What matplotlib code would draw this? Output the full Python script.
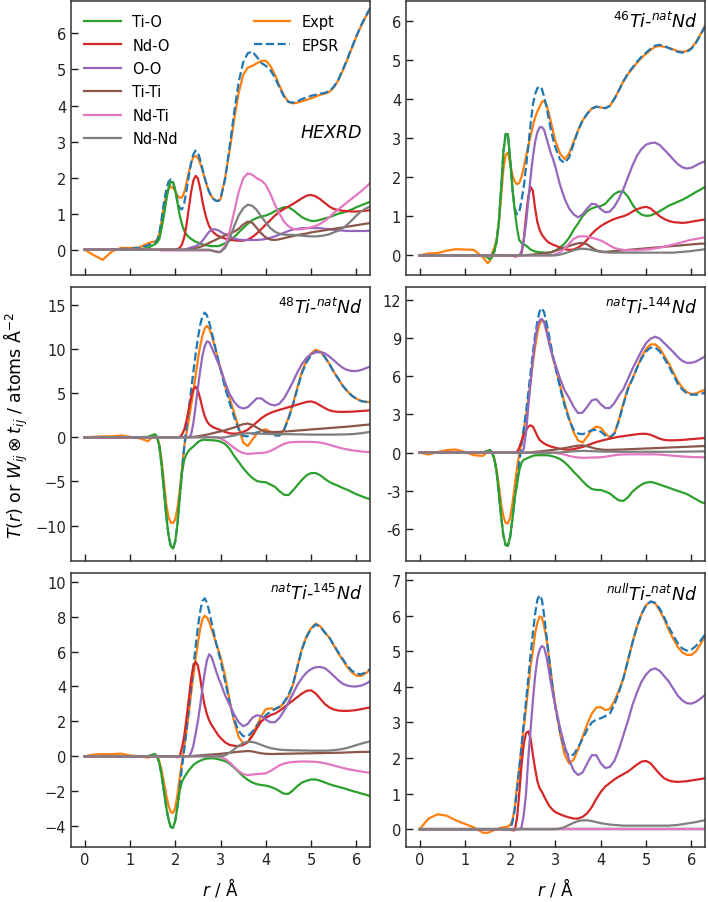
import matplotlib
matplotlib.use("Agg")
import matplotlib.pyplot as plt
from matplotlib.lines import Line2D

# r grid (Å)
r = [0.0, 0.2, 0.4, 0.6, 0.8, 1.0, 1.2, 1.4,
     1.5, 1.55, 1.6, 1.65, 1.7, 1.75, 1.8, 1.85, 1.9, 1.95, 2.0, 2.05, 2.1, 2.15, 2.2, 2.25, 2.3, 2.35,
     2.4, 2.45, 2.5, 2.55, 2.6, 2.65, 2.7, 2.75, 2.8, 2.85, 2.9, 2.95, 3.0,
     3.1, 3.2, 3.3, 3.4, 3.5, 3.6, 3.7, 3.8, 3.9, 4.0, 4.1, 4.2, 4.3, 4.4, 4.5, 4.6, 4.7, 4.8, 4.9, 5.0,
     5.1, 5.2, 5.3, 5.4, 5.5, 5.6, 5.7, 5.8, 5.9, 6.0, 6.1, 6.2, 6.3]

# ---- HEXRD ----
hexrd_tio = [0, 0, 0, 0, 0, 0, 0.01, 0.05,
             0.12, 0.15, 0.2, 0.3, 0.6, 0.95, 1.35, 1.7, 1.88, 1.88, 1.65, 1.3, 0.95, 0.7, 0.52,
             0.42, 0.35, 0.3, 0.26, 0.22, 0.2, 0.17, 0.15, 0.13, 0.12, 0.11, 0.1, 0.1, 0.1, 0.1, 0.12,
             0.18, 0.25, 0.35, 0.48, 0.6, 0.72, 0.82, 0.88, 0.92, 0.95, 1.0, 1.07, 1.13, 1.18, 1.18,
             1.1, 1.0, 0.9, 0.84, 0.8, 0.8, 0.83, 0.87, 0.9, 0.95, 1.0, 1.03, 1.07, 1.12, 1.18,
             1.23, 1.28, 1.33]
hexrd_ndo = [0, 0, 0, 0, 0, 0, 0, 0,
             0, 0, 0, 0, 0, 0, 0, 0, 0, 0, 0, 0.02, 0.05, 0.15, 0.35,
             0.7, 1.15, 1.6, 1.92, 2.05, 1.98, 1.7, 1.35, 1.05, 0.82, 0.65, 0.55, 0.47, 0.42, 0.38, 0.35,
             0.31, 0.28, 0.26, 0.25, 0.25, 0.28, 0.35, 0.45, 0.57, 0.7, 0.82, 0.95, 1.05, 1.13, 1.2,
             1.27, 1.35, 1.43, 1.5, 1.52, 1.48, 1.4, 1.3, 1.2, 1.13, 1.1, 1.08, 1.07, 1.06, 1.06,
             1.07, 1.08, 1.1]
hexrd_oo = [0, 0, 0, 0, 0, 0, 0, 0,
            0, 0, 0, 0, 0, 0, 0, 0, 0, 0, 0, 0, 0, 0, 0,
            0.02, 0.04, 0.06, 0.08, 0.1, 0.13, 0.18, 0.25, 0.33, 0.42, 0.5, 0.55, 0.57, 0.56, 0.54, 0.5,
            0.43, 0.36, 0.31, 0.28, 0.27, 0.27, 0.27, 0.27, 0.28, 0.3, 0.33, 0.37, 0.42, 0.47, 0.52,
            0.56, 0.58, 0.6, 0.6, 0.6, 0.6, 0.6, 0.58, 0.57, 0.55, 0.54, 0.53, 0.52, 0.52, 0.52,
            0.52, 0.52, 0.53]
hexrd_titi = [0, 0, 0, 0, 0, 0, 0, 0,
              0, 0, 0, 0, 0, 0, 0, 0, 0, 0, 0, 0, 0, 0, 0,
              0, 0, 0.01, 0.02, 0.04, 0.06, 0.08, 0.1, 0.13, 0.16, 0.19, 0.22, 0.25, 0.28, 0.31, 0.34,
              0.4, 0.45, 0.5, 0.58, 0.7, 0.78, 0.75, 0.6, 0.45, 0.34, 0.28, 0.27, 0.29, 0.32, 0.35,
              0.38, 0.41, 0.43, 0.45, 0.48, 0.5, 0.52, 0.54, 0.56, 0.58, 0.6, 0.62, 0.64, 0.66, 0.68,
              0.7, 0.72, 0.74]
hexrd_ndti = [0, 0, 0, 0, 0, 0, 0, 0,
              0, 0, 0, -0.01, -0.02, -0.02, -0.02, -0.02, -0.02, -0.02, -0.02, -0.02, -0.02, -0.02, -0.02,
              -0.02, -0.02, -0.02, -0.02, -0.02, -0.02, -0.02, -0.02, -0.02, -0.02, -0.02, -0.02, -0.03,
              -0.04, -0.05, -0.05,
              0.1, 0.5, 1.05, 1.6, 1.98, 2.12, 2.08, 1.98, 1.92, 1.8, 1.55, 1.25, 1.0, 0.78, 0.65,
              0.58, 0.56, 0.57, 0.6, 0.62, 0.66, 0.72, 0.8, 0.9, 1.02, 1.12, 1.22, 1.32, 1.42, 1.52,
              1.62, 1.73, 1.85]
hexrd_ndnd = [0, 0, 0, 0, 0, 0, 0, 0,
              0, 0, 0, 0, 0, 0, 0, 0, 0, 0, 0, 0, 0, 0, 0,
              0, 0, 0, 0, 0, 0, 0, 0, 0, 0, 0, -0.02, -0.04, -0.06, -0.07, -0.06,
              0.05, 0.3, 0.65, 0.95, 1.15, 1.25, 1.22, 1.1, 0.92, 0.75, 0.6, 0.5, 0.44, 0.42, 0.41,
              0.41, 0.4, 0.39, 0.38, 0.37, 0.37, 0.38, 0.4, 0.43, 0.48, 0.53, 0.6, 0.7, 0.82, 0.95,
              1.06, 1.14, 1.2]
hexrd_expt = [0, -0.15, -0.28, -0.05, 0.05, 0.05, 0.06, 0.18,
              0.22, 0.22, 0.28, 0.45, 0.8, 1.2, 1.5, 1.68, 1.75, 1.72, 1.62, 1.5, 1.44, 1.45, 1.6,
              1.85, 2.15, 2.4, 2.57, 2.6, 2.55, 2.4, 2.2, 1.98, 1.78, 1.6, 1.48, 1.4, 1.36, 1.35, 1.4,
              2.0, 2.75, 3.6, 4.35, 4.85, 5.05, 5.1, 5.17, 5.24, 5.24, 5.1, 4.85, 4.55, 4.28, 4.1,
              4.06, 4.08, 4.12, 4.16, 4.2, 4.25, 4.3, 4.33, 4.38, 4.5, 4.7, 4.98, 5.28, 5.6, 5.92,
              6.2, 6.45, 6.68]
hexrd_epsr = [0, 0, 0, 0, 0.02, 0.03, 0.05, 0.12,
              0.18, 0.2, 0.25, 0.45, 0.85, 1.3, 1.65, 1.88, 1.95, 1.88, 1.65, 1.35, 1.15, 1.12, 1.3,
              1.65, 2.05, 2.4, 2.65, 2.75, 2.7, 2.5, 2.25, 2.0, 1.78, 1.6, 1.48, 1.4, 1.36, 1.35, 1.42,
              1.95, 2.85, 3.8, 4.65, 5.2, 5.45, 5.5, 5.35, 5.18, 5.1, 4.98, 4.78, 4.5, 4.25, 4.1,
              4.08, 4.12, 4.18, 4.23, 4.27, 4.3, 4.33, 4.35, 4.4, 4.52, 4.72, 5.0, 5.3, 5.62, 5.93,
              6.22, 6.47, 6.7]

# ---- 46Ti-natNd ----
ti46_tio = [0, 0, 0, 0, 0, 0, 0, 0,
            -0.05, -0.1, -0.05, 0.1, 0.35, 0.85, 1.7, 2.65, 3.1, 3.1, 2.45, 1.68, 1.15, 0.7, 0.39,
            0.32, 0.28, 0.25, 0.2, 0.15, 0.12, 0.1, 0.09, 0.08, 0.08, 0.07, 0.07, 0.07, 0.08, 0.1, 0.12,
            0.2, 0.3, 0.45, 0.65, 0.82, 1.0, 1.13, 1.2, 1.24, 1.26, 1.32, 1.45, 1.57, 1.63, 1.63,
            1.5, 1.3, 1.13, 1.04, 1.01, 1.02, 1.07, 1.13, 1.2, 1.27, 1.32, 1.37, 1.42, 1.48, 1.55,
            1.62, 1.68, 1.75]
ti46_ndo = [0, 0, 0, 0, 0, 0, 0, 0,
            0, 0, 0, 0, 0, 0, 0, 0, 0, 0, 0, 0, -0.03, -0.02, 0.0,
            0.05, 0.4, 1.0, 1.5, 1.75, 1.65, 1.2, 0.85, 0.65, 0.53, 0.45, 0.38, 0.33, 0.3, 0.27, 0.25,
            0.2, 0.16, 0.14, 0.15, 0.2, 0.28, 0.4, 0.55, 0.66, 0.75, 0.82, 0.88, 0.93, 0.97, 1.0,
            1.05, 1.12, 1.18, 1.22, 1.24, 1.2, 1.1, 1.0, 0.93, 0.88, 0.85, 0.84, 0.83, 0.84, 0.86,
            0.88, 0.9, 0.92]
ti46_oo = [0, 0, 0, 0, 0, 0, 0, 0,
           0, 0, 0, 0, 0, 0, 0, 0, 0, 0, 0, 0, 0, 0, 0,
           0.1, 0.4, 0.82, 1.4, 2.0, 2.5, 2.9, 3.15, 3.27, 3.28, 3.2, 3.0, 2.8, 2.6, 2.45, 2.25,
           1.8, 1.45, 1.2, 1.05, 0.97, 1.05, 1.2, 1.32, 1.3, 1.18, 1.1, 1.12, 1.25, 1.45, 1.7,
           2.0, 2.3, 2.55, 2.72, 2.83, 2.87, 2.88, 2.82, 2.7, 2.58, 2.45, 2.33, 2.25, 2.22, 2.24,
           2.3, 2.36, 2.4]
ti46_titi = [0, 0, 0, 0, 0, 0, 0, 0,
             0, 0, 0, 0, 0, 0, 0, 0, 0, 0, 0, 0, 0, 0, 0,
             0, 0, 0.01, 0.01, 0.02, 0.02, 0.03, 0.03, 0.04, 0.04, 0.05, 0.06, 0.07, 0.08, 0.1, 0.12,
             0.16, 0.2, 0.24, 0.28, 0.31, 0.32, 0.28, 0.2, 0.13, 0.1, 0.09, 0.1, 0.11, 0.12, 0.13,
             0.14, 0.15, 0.16, 0.17, 0.18, 0.19, 0.2, 0.21, 0.22, 0.23, 0.24, 0.25, 0.26, 0.27, 0.28,
             0.29, 0.3, 0.3]
ti46_ndti = [0, 0, 0, 0, 0, 0, 0, 0,
             0, 0, 0, 0, 0, 0, 0, 0, 0, 0, 0, 0, 0, 0, 0,
             0, 0, 0, 0, 0, 0, 0, 0, 0, 0, 0, 0, 0, 0, 0.01, 0.03,
             0.08, 0.17, 0.3, 0.42, 0.48, 0.49, 0.48, 0.45, 0.42, 0.38, 0.32, 0.25, 0.19, 0.16, 0.14,
             0.13, 0.13, 0.13, 0.14, 0.15, 0.16, 0.18, 0.2, 0.22, 0.25, 0.28, 0.31, 0.34, 0.37, 0.4,
             0.42, 0.44, 0.46]
ti46_ndnd = [0, 0, 0, 0, 0, 0, 0, 0,
             0, 0, 0, 0, 0, 0, 0, 0, 0, 0, 0, 0, 0, 0, 0,
             0, 0, 0, 0, 0, 0, 0, 0, 0, 0, 0, 0, 0, 0, 0, 0,
             0.02, 0.05, 0.09, 0.13, 0.16, 0.17, 0.16, 0.14, 0.11, 0.09, 0.08, 0.07, 0.07, 0.07, 0.07,
             0.07, 0.07, 0.07, 0.07, 0.07, 0.07, 0.07, 0.07, 0.07, 0.07, 0.07, 0.08, 0.09, 0.1, 0.11,
             0.13, 0.14, 0.16]
ti46_expt = [0, 0.05, 0.06, 0.12, 0.16, 0.15, 0.14, -0.05,
             -0.2, -0.15, 0.05, 0.2, 0.4, 0.85, 1.5, 2.2, 2.58, 2.62, 2.35, 2.05, 1.88, 1.82, 1.85,
             2.0, 2.25, 2.52, 2.8, 3.05, 3.3, 3.52, 3.68, 3.8, 3.92, 3.95, 3.85, 3.65, 3.4, 3.15, 2.92,
             2.6, 2.46, 2.6, 2.9, 3.2, 3.45, 3.62, 3.75, 3.8, 3.78, 3.76, 3.82, 4.0, 4.22, 4.45,
             4.63, 4.78, 4.92, 5.05, 5.15, 5.25, 5.33, 5.35, 5.33, 5.3, 5.26, 5.22, 5.2, 5.22, 5.3,
             5.45, 5.65, 5.87]
ti46_epsr = [0, 0, 0, 0, 0, 0, 0, 0,
             0, 0, 0, 0.1, 0.35, 0.85, 1.7, 2.65, 3.1, 3.1, 2.45, 1.7, 1.2, 1.05, 1.1,
             1.4, 1.75, 2.26, 2.8, 3.35, 3.85, 4.12, 4.27, 4.32, 4.25, 4.05, 3.8, 3.5, 3.2, 2.95, 2.75,
             2.45, 2.36, 2.5, 2.85, 3.2, 3.45, 3.62, 3.75, 3.8, 3.78, 3.76, 3.82, 4.0, 4.22, 4.45,
             4.65, 4.8, 4.95, 5.08, 5.18, 5.28, 5.36, 5.38, 5.35, 5.3, 5.25, 5.2, 5.18, 5.2, 5.28,
             5.43, 5.63, 5.85]

# ---- 48Ti-natNd ----
ti48_tio = [0, 0, 0, 0, 0, 0, 0, 0.05,
            0.25, 0.35, 0.0, -1.0, -3.2, -6.0, -8.8, -11.0, -12.3, -12.6, -11.8, -9.8, -6.8, -4.0, -2.5,
            -1.9, -1.5, -1.25, -1.05, -0.8, -0.55, -0.4, -0.3, -0.28, -0.3, -0.32, -0.33, -0.35, -0.38,
            -0.42, -0.5,
            -0.75, -1.3, -2.1, -2.8, -3.5, -4.1, -4.6, -4.95, -5.05, -5.1, -5.35, -5.6, -6.1, -6.5, -6.55,
            -6.0, -5.4, -4.8, -4.3, -4.05, -4.05, -4.3, -4.7, -5.05, -5.3, -5.5, -5.75, -5.95, -6.2, -6.45,
            -6.65, -6.85, -7.0]
ti48_ndo = [0, 0, 0, 0, 0, 0, 0, 0,
            0, 0, 0, 0, 0, 0, 0, 0, 0, 0, 0, 0, 0.05, 0.3, 0.9,
            1.9, 3.2, 4.5, 5.4, 5.7, 5.3, 4.4, 3.3, 2.4, 1.8, 1.45, 1.25, 1.1, 1.0, 0.9, 0.8,
            0.6, 0.45, 0.4, 0.45, 0.6, 0.85, 1.25, 1.7, 2.15, 2.5, 2.75, 2.95, 3.1, 3.25, 3.4,
            3.55, 3.7, 3.85, 4.0, 4.05, 3.9, 3.6, 3.3, 3.05, 2.92, 2.88, 2.87, 2.88, 2.9, 2.93,
            2.97, 3.0, 3.05]
ti48_oo = [0, 0, 0, 0, 0, 0, 0, 0,
           0, 0, 0, 0, 0, 0, 0, 0, 0, 0, 0, 0, 0, 0, 0,
           0, 0, 0.3, 1.6, 3.5, 5.6, 7.5, 9.2, 10.3, 10.85, 10.75, 10.2, 9.6, 9.0, 8.4, 7.8,
           6.2, 4.9, 4.0, 3.45, 3.25, 3.4, 3.9, 4.4, 4.4, 4.0, 3.7, 3.6, 3.8, 4.4, 5.3,
           6.3, 7.4, 8.3, 9.0, 9.4, 9.6, 9.65, 9.5, 9.15, 8.7, 8.25, 7.85, 7.6, 7.5, 7.5,
           7.6, 7.8, 8.0]
ti48_titi = [0, 0, 0, 0, 0, 0, 0, 0,
             0, 0, 0, 0, 0, 0, 0, 0, 0, 0, 0, 0, 0, 0, 0,
             0, 0, 0.02, 0.05, 0.07, 0.1, 0.15, 0.2, 0.25, 0.3, 0.36, 0.42, 0.48, 0.55, 0.6, 0.65,
             0.8, 0.95, 1.1, 1.3, 1.48, 1.55, 1.4, 1.1, 0.8, 0.65, 0.6, 0.6, 0.62, 0.65, 0.68,
             0.72, 0.76, 0.8, 0.84, 0.88, 0.92, 0.96, 1.0, 1.04, 1.08, 1.12, 1.16, 1.2, 1.25, 1.3,
             1.35, 1.4, 1.45]
ti48_ndti = [0, 0, 0, 0, 0, 0, 0, 0,
             0, 0, 0, 0, 0, 0, 0, 0, 0, 0, 0, 0, 0, 0, 0,
             0, 0, 0, 0, 0, 0, 0, 0, 0, 0, 0, 0, 0, 0, -0.05, -0.15,
             -0.4, -0.8, -1.2, -1.55, -1.8, -1.88, -1.85, -1.8, -1.78, -1.72, -1.55, -1.3, -1.0, -0.75, -0.6,
             -0.55, -0.53, -0.52, -0.52, -0.53, -0.55, -0.6, -0.7, -0.85, -1.0, -1.15, -1.28, -1.38, -1.47,
             -1.55, -1.6, -1.65, -1.7]
ti48_ndnd = [0, 0, 0, 0, 0, 0, 0, 0,
             0, 0, 0, 0, 0, 0, 0, 0, 0, 0, 0, 0, 0, 0, 0,
             0, 0, 0, 0, 0, 0, 0, 0, 0, 0, 0, 0, 0, -0.02, -0.04, -0.05,
             0.0, 0.1, 0.2, 0.32, 0.42, 0.45, 0.45, 0.42, 0.4, 0.38, 0.37, 0.36, 0.36, 0.35, 0.35,
             0.34, 0.33, 0.32, 0.31, 0.3, 0.3, 0.3, 0.3, 0.3, 0.3, 0.31, 0.32, 0.33, 0.35, 0.4,
             0.46, 0.53, 0.6]
ti48_expt = [0, 0.05, 0.1, 0.1, 0.2, 0.05, -0.1, -0.45,
             0.05, 0.2, 0.0, -0.9, -2.6, -5.0, -7.5, -9.0, -9.65, -9.7, -9.3, -8.0, -6.0, -3.5, -1.0,
             0.5, 2.0, 3.6, 5.2, 7.0, 8.8, 10.3, 11.5, 12.3, 12.6, 12.3, 11.6, 10.7, 9.7, 8.7, 7.8,
             5.8, 4.4, 2.8, 1.1, -0.6, -1.0, -0.3, 0.4, 0.75, 0.9, 0.6, 0.3, 0.2, 0.9, 2.2,
             3.8, 5.7, 7.5, 8.7, 9.5, 9.9, 9.7, 9.1, 8.3, 7.4, 6.6, 5.8, 5.2, 4.7, 4.35,
             4.1, 4.0, 4.0]
ti48_epsr = [0, 0, 0, 0, 0, 0, 0, 0,
             0.2, 0.3, 0.05, -1.0, -3.2, -6.0, -8.8, -11.0, -12.3, -12.6, -11.8, -9.8, -6.8, -3.8, -1.0,
             1.2, 3.2, 5.3, 7.4, 9.4, 11.2, 12.7, 13.7, 14.1, 13.8, 13.0, 12.0, 10.9, 9.8, 8.7, 7.7,
             5.6, 3.9, 2.3, 0.9, 0.15, 0.1, 0.35, 0.55, 0.6, 0.5, 0.35, 0.2, 0.2, 0.8, 2.1,
             3.7, 5.6, 7.3, 8.5, 9.3, 9.7, 9.6, 9.1, 8.3, 7.4, 6.6, 5.8, 5.2, 4.7, 4.35,
             4.1, 4.0, 4.0]

# ---- natTi-144Nd ----
nd144_tio = [0, 0, 0, 0, 0, 0, 0, 0,
             0.15, 0.2, 0.05, -0.5, -1.5, -3.2, -5.0, -6.5, -7.25, -7.3, -6.6, -5.2, -3.6, -2.5, -1.4,
             -0.8, -0.55, -0.48, -0.4, -0.32, -0.25, -0.21, -0.2, -0.2, -0.2, -0.2, -0.2, -0.21, -0.25,
             -0.3, -0.35,
             -0.5, -0.75, -1.1, -1.5, -1.85, -2.25, -2.6, -2.85, -2.92, -2.93, -3.05, -3.2, -3.5, -3.75,
             -3.78, -3.5, -3.05, -2.75, -2.5, -2.35, -2.3, -2.38, -2.5, -2.63, -2.75, -2.88, -3.0, -3.12,
             -3.25, -3.45, -3.65, -3.85, -4.0]
nd144_ndo = [0, 0, 0, 0, 0, 0, 0, 0,
             0, 0, 0, 0, 0, 0, 0, 0, 0, 0, 0, 0, 0, 0.05, 0.4,
             0.9, 1.35, 1.75, 2.05, 2.15, 2.05, 1.7, 1.3, 1.0, 0.85, 0.72, 0.62, 0.55, 0.48, 0.43, 0.38,
             0.3, 0.25, 0.23, 0.28, 0.36, 0.45, 0.57, 0.7, 0.83, 0.93, 1.02, 1.1, 1.18, 1.25, 1.3,
             1.35, 1.4, 1.45, 1.48, 1.48, 1.4, 1.25, 1.1, 1.0, 0.97, 0.97, 0.98, 1.0, 1.03, 1.06,
             1.09, 1.12, 1.15]
nd144_oo = [0, 0, 0, 0, 0, 0, 0, 0,
            0, 0, 0, 0, 0, 0, 0, 0, 0, 0, 0, 0, 0, 0, 0,
            0, 0.3, 1.6, 3.6, 5.5, 7.3, 8.8, 9.9, 10.4, 10.5, 10.2, 9.5, 8.7, 8.0, 7.4, 6.9,
            5.8, 4.9, 4.3, 3.6, 3.1, 3.15, 3.6, 4.1, 4.2, 3.8, 3.5, 3.5, 3.9, 4.5, 5.0,
            5.8, 6.6, 7.3, 8.0, 8.6, 8.95, 9.1, 8.95, 8.6, 8.25, 7.9, 7.5, 7.2, 7.05, 7.05,
            7.15, 7.35, 7.55]
nd144_titi = [0, 0, 0, 0, 0, 0, 0, 0,
              0, 0, 0, 0, 0, 0, 0, 0, 0, 0, 0, 0, 0, 0, 0,
              0, 0, 0, 0.02, 0.03, 0.05, 0.06, 0.08, 0.1, 0.12, 0.14, 0.16, 0.18, 0.2, 0.22, 0.24,
              0.3, 0.36, 0.42, 0.5, 0.55, 0.57, 0.5, 0.4, 0.3, 0.25, 0.22, 0.22, 0.23, 0.24, 0.25,
              0.27, 0.28, 0.3, 0.31, 0.33, 0.34, 0.36, 0.37, 0.39, 0.4, 0.42, 0.43, 0.45, 0.46, 0.48,
              0.49, 0.51, 0.52]
nd144_ndti = [0, 0, 0, 0, 0, 0, 0, 0,
              0, 0, 0, 0, 0, 0, 0, 0, 0, 0, 0, 0, 0, 0, 0,
              0, 0, 0, 0, 0, 0, 0, 0, 0, 0, 0, 0, 0, 0, -0.01, -0.03,
              -0.08, -0.15, -0.25, -0.33, -0.38, -0.4, -0.4, -0.38, -0.37, -0.36, -0.32, -0.26, -0.2, -0.16,
              -0.14, -0.13, -0.13, -0.13, -0.13, -0.13, -0.13, -0.13, -0.15, -0.18, -0.21, -0.24, -0.27,
              -0.3, -0.32, -0.34, -0.35, -0.36, -0.37]
nd144_ndnd = [0, 0, 0, 0, 0, 0, 0, 0,
              0, 0, 0, 0, 0, 0, 0, 0, 0, 0, 0, 0, 0, 0, 0,
              0, 0, 0, 0, 0, 0, 0, 0, 0, 0, 0, 0, 0, 0, 0, 0,
              0.02, 0.05, 0.08, 0.11, 0.13, 0.14, 0.13, 0.12, 0.1, 0.09, 0.08, 0.08, 0.07, 0.07, 0.07,
              0.07, 0.07, 0.07, 0.07, 0.07, 0.07, 0.07, 0.07, 0.07, 0.07, 0.07, 0.08, 0.08, 0.08, 0.09,
              0.09, 0.1, 0.1]
nd144_expt = [0, -0.15, 0.05, 0.2, 0.25, 0.05, -0.2, -0.25,
              0.05, 0.15, 0.0, -0.5, -1.3, -2.6, -4.0, -5.0, -5.5, -5.55, -5.1, -4.0, -2.6, -1.2, -0.1,
              0.8, 1.8, 2.9, 4.2, 5.6, 7.0, 8.3, 9.4, 10.1, 10.4, 10.3, 9.8, 9.0, 8.1, 7.3, 6.7,
              5.3, 3.9, 2.7, 1.6, 0.95, 0.8, 1.25, 1.8, 2.05, 1.95, 1.5, 1.2, 1.5, 2.6, 3.9,
              5.1, 5.8, 6.7, 7.5, 8.15, 8.5, 8.5, 8.2, 7.6, 7.0, 6.3, 5.6, 5.1, 4.75, 4.6,
              4.65, 4.8, 4.95]
nd144_epsr = [0, 0, 0, 0, 0, 0, 0, 0,
              0.15, 0.2, 0.05, -0.5, -1.5, -3.2, -5.0, -6.5, -7.25, -7.3, -6.6, -5.2, -3.6, -2.3, -0.8,
              0.6, 1.9, 3.2, 4.7, 6.3, 7.8, 9.2, 10.3, 11.1, 11.35, 11.0, 10.2, 9.3, 8.4, 7.5, 6.7,
              5.1, 3.7, 2.6, 1.8, 1.5, 1.45, 1.6, 1.75, 1.8, 1.65, 1.35, 1.2, 1.5, 2.5, 3.8,
              5.0, 5.8, 6.65, 7.4, 7.95, 8.25, 8.25, 7.95, 7.4, 6.8, 6.1, 5.4, 4.95, 4.65, 4.55,
              4.55, 4.6, 4.7]

# ---- natTi-145Nd ----
nd145_tio = [0, 0, 0, 0, 0, 0, 0, 0,
             0.1, 0.12, 0.0, -0.4, -1.1, -2.0, -2.9, -3.6, -4.05, -4.1, -3.7, -2.85, -1.95, -1.45, -1.2,
             -1.0, -0.8, -0.65, -0.5, -0.4, -0.32, -0.26, -0.2, -0.16, -0.13, -0.12, -0.12, -0.12, -0.14,
             -0.17, -0.2,
             -0.28, -0.42, -0.65, -0.9, -1.15, -1.35, -1.5, -1.6, -1.65, -1.68, -1.75, -1.85, -2.0, -2.15,
             -2.15, -1.95, -1.7, -1.5, -1.4, -1.33, -1.33, -1.4, -1.5, -1.6, -1.68, -1.75, -1.82, -1.9,
             -1.98, -2.05, -2.13, -2.2, -2.28]
nd145_ndo = [0, 0, 0, 0, 0, 0, 0, 0,
             0, 0, 0, 0, 0, 0, 0, 0, 0, 0, -0.03, -0.05, 0.0, 0.5, 1.2,
             2.2, 3.3, 4.4, 5.2, 5.4, 5.2, 4.5, 3.6, 2.9, 2.4, 2.05, 1.8, 1.6, 1.4, 1.2, 1.05,
             0.8, 0.65, 0.6, 0.58, 0.65, 0.8, 1.15, 1.6, 2.0, 2.2, 2.35, 2.45, 2.6, 2.8, 3.0,
             3.2, 3.4, 3.6, 3.75, 3.78, 3.6, 3.3, 3.0, 2.8, 2.68, 2.62, 2.6, 2.6, 2.62, 2.65,
             2.7, 2.75, 2.8]
nd145_oo = [0, 0, 0, 0, 0, 0, 0, 0,
            0, 0, 0, 0, 0, 0, 0, 0, 0, 0, 0, 0, 0, 0, 0,
            0, 0, 0.2, 0.6, 1.3, 2.0, 2.9, 3.9, 4.8, 5.5, 5.85, 5.7, 5.3, 4.9, 4.5, 4.2,
            3.5, 2.95, 2.4, 1.95, 1.72, 1.85, 2.2, 2.35, 2.3, 2.1, 1.95, 1.95, 2.2, 2.6, 3.1,
            3.6, 4.1, 4.5, 4.8, 5.0, 5.1, 5.12, 5.05, 4.85, 4.6, 4.35, 4.15, 4.05, 4.0, 4.0,
            4.05, 4.15, 4.3]
nd145_titi = [0, 0, 0, 0, 0, 0, 0, 0,
              0, 0, 0, 0, 0, 0, 0, 0, 0, 0, 0, 0, 0, 0, 0,
              0, 0, 0.01, 0.02, 0.03, 0.04, 0.05, 0.06, 0.07, 0.08, 0.09, 0.1, 0.11, 0.12, 0.13, 0.14,
              0.17, 0.2, 0.23, 0.26, 0.28, 0.3, 0.28, 0.22, 0.17, 0.14, 0.13, 0.13, 0.14, 0.14, 0.15,
              0.15, 0.16, 0.16, 0.17, 0.17, 0.18, 0.18, 0.19, 0.19, 0.2, 0.2, 0.21, 0.22, 0.23, 0.24,
              0.25, 0.25, 0.26]
nd145_ndti = [0, 0, 0, 0, 0, 0, 0, 0,
              0, 0, 0, 0, 0, 0, 0, 0, 0, 0, 0, 0, 0, 0, 0,
              0, 0, 0, 0, 0, 0, 0, 0, 0, 0, 0, 0, 0, 0, -0.02, -0.05,
              -0.15, -0.35, -0.6, -0.85, -1.02, -1.08, -1.05, -1.02, -1.0, -0.98, -0.85, -0.68, -0.52, -0.42,
              -0.36, -0.33, -0.31, -0.3, -0.3, -0.31, -0.32, -0.35, -0.4, -0.46, -0.53, -0.6, -0.67, -0.73,
              -0.78, -0.83, -0.87, -0.91, -0.95]
nd145_ndnd = [0, 0, 0, 0, 0, 0, 0, 0,
              0, 0, 0, 0, 0, 0, 0, 0, 0, 0, 0, 0, 0, 0, 0,
              0, 0, 0, 0, 0, 0, 0, 0, 0, 0, 0, 0, 0, 0, 0, 0,
              0.05, 0.2, 0.4, 0.6, 0.75, 0.83, 0.82, 0.75, 0.65, 0.55, 0.47, 0.42, 0.38, 0.36, 0.35,
              0.34, 0.34, 0.33, 0.33, 0.32, 0.32, 0.32, 0.32, 0.33, 0.35, 0.38, 0.42, 0.48, 0.56, 0.64,
              0.72, 0.79, 0.86]
nd145_expt = [0, 0.1, 0.12, 0.12, 0.15, 0.05, 0.0, -0.08,
              0.05, 0.1, 0.0, -0.3, -0.8, -1.5, -2.2, -2.8, -3.2, -3.25, -2.95, -2.2, -1.2, -0.3, 0.6,
              1.5, 2.5, 3.6, 4.6, 5.6, 6.5, 7.3, 7.85, 8.05, 7.95, 7.7, 7.3, 6.9, 6.5, 6.1, 5.7,
              4.6, 3.2, 2.0, 1.1, 0.75, 0.8, 1.25, 1.75, 2.3, 2.7, 2.75, 2.7, 2.8, 3.05, 3.45,
              4.1, 5.2, 6.2, 6.9, 7.35, 7.6, 7.45, 7.1, 6.8, 6.35, 5.9, 5.5, 5.1, 4.8, 4.62,
              4.6, 4.75, 4.95]
nd145_epsr = [0, 0, 0, 0, 0, 0, 0, 0,
              0.1, 0.12, 0.0, -0.4, -1.1, -2.0, -2.9, -3.6, -4.05, -4.1, -3.7, -2.85, -1.8, -0.6, 0.4,
              1.5, 2.7, 3.9, 5.1, 6.3, 7.4, 8.3, 8.9, 9.05, 8.8, 8.3, 7.7, 7.1, 6.5, 6.0, 5.5,
              4.3, 3.1, 2.1, 1.45, 1.15, 1.15, 1.4, 1.75, 2.05, 2.35, 2.55, 2.7, 2.85, 3.1, 3.5,
              4.15, 5.15, 6.15, 6.85, 7.3, 7.55, 7.42, 7.1, 6.8, 6.38, 5.95, 5.55, 5.18, 4.9, 4.72,
              4.7, 4.8, 5.0]

# ---- nullTi-natNd (Ti partials vanish) ----
null_tio = [0, 0, 0, 0, 0, 0, 0, 0,
            0, 0, 0, 0, 0, 0, 0, 0, 0, 0, 0, 0, 0, 0, 0,
            0, 0, 0, 0, 0, 0, 0, 0, 0, 0, 0, 0, 0, 0, 0, 0,
            0, 0, 0, 0, 0, 0, 0, 0, 0, 0, 0, 0, 0, 0, 0,
            0, 0, 0, 0, 0, 0, 0, 0, 0, 0, 0, 0, 0, 0, 0,
            0, 0, 0]
null_ndo = [0, 0, 0, 0, 0, 0, 0, 0,
            0, 0, 0, 0, 0, 0, 0, 0, 0, 0, 0, -0.03, -0.03, 0.3, 1.0,
            1.8, 2.4, 2.7, 2.75, 2.55, 2.1, 1.7, 1.35, 1.15, 1.05, 0.92, 0.8, 0.68, 0.6, 0.53, 0.48,
            0.42, 0.37, 0.33, 0.3, 0.3, 0.35, 0.45, 0.62, 0.85, 1.05, 1.2, 1.3, 1.4, 1.48, 1.55,
            1.62, 1.72, 1.82, 1.9, 1.92, 1.85, 1.7, 1.55, 1.43, 1.37, 1.34, 1.33, 1.34, 1.35, 1.37,
            1.39, 1.41, 1.43]
null_oo = [0, 0, 0, 0, 0, 0, 0, 0,
           0, 0, 0, 0, 0, 0, 0, 0, 0, 0, 0, 0, 0, 0, 0,
           0.05, 0.4, 1.0, 2.0, 2.8, 3.6, 4.3, 4.8, 5.05, 5.15, 5.1, 4.85, 4.5, 4.1, 3.75, 3.45,
           2.85, 2.35, 1.95, 1.65, 1.52, 1.6, 1.85, 2.08, 2.08, 1.85, 1.72, 1.75, 1.92, 2.25, 2.65,
           3.05, 3.5, 3.85, 4.15, 4.35, 4.48, 4.52, 4.45, 4.3, 4.15, 3.95, 3.75, 3.62, 3.54, 3.53,
           3.58, 3.67, 3.77]
null_titi = list(null_tio)
null_ndti = list(null_tio)
null_ndnd = [0, 0, 0, 0, 0, 0, 0, 0,
             0, 0, 0, 0, 0, 0, 0, 0, 0, 0, 0, 0, 0, 0, 0,
             0, 0, 0, 0, 0, 0, 0, 0, 0, 0, 0, 0, 0, 0, 0, 0,
             0.02, 0.06, 0.12, 0.18, 0.23, 0.25, 0.25, 0.23, 0.2, 0.17, 0.15, 0.13, 0.12, 0.11, 0.1,
             0.1, 0.1, 0.1, 0.1, 0.1, 0.1, 0.1, 0.1, 0.1, 0.1, 0.11, 0.12, 0.14, 0.16, 0.18,
             0.2, 0.23, 0.25]
null_expt = [0, 0.3, 0.42, 0.38, 0.25, 0.15, 0.05, -0.1,
             -0.1, -0.08, -0.05, -0.02, 0.0, 0.02, 0.04, 0.05, 0.06, 0.08, 0.12, 0.25, 0.6, 1.2, 1.7,
             2.3, 2.85, 3.4, 4.0, 4.6, 5.0, 5.5, 5.8, 5.98, 5.95, 5.7, 5.35, 4.9, 4.4, 3.9, 3.45,
             2.7, 2.1, 1.85, 1.95, 2.25, 2.6, 2.95, 3.25, 3.42, 3.43, 3.35, 3.38, 3.6, 3.9, 4.25,
             4.75, 5.25, 5.7, 6.05, 6.3, 6.4, 6.35, 6.15, 5.9, 5.6, 5.35, 5.12, 4.97, 4.9, 4.9,
             5.0, 5.2, 5.43]
null_epsr = [0, 0, 0, 0, 0, 0, 0, 0,
             0, 0, 0, 0, 0, 0, 0, 0, 0, 0, 0, 0.2, 0.55, 1.1, 1.7,
             2.35, 3.0, 3.6, 4.25, 4.9, 5.5, 6.05, 6.45, 6.58, 6.45, 6.0, 5.45, 4.9, 4.35, 3.85, 3.4,
             2.75, 2.25, 2.05, 2.1, 2.3, 2.55, 2.8, 3.0, 3.08, 3.12, 3.18, 3.25, 3.5, 3.85, 4.25,
             4.75, 5.25, 5.7, 6.05, 6.3, 6.4, 6.36, 6.2, 5.95, 5.68, 5.45, 5.22, 5.08, 5.02, 5.05,
             5.15, 5.3, 5.47]

pair_names = ['Ti-O', 'Nd-O', 'O-O', 'Ti-Ti', 'Nd-Ti', 'Nd-Nd']
pair_colors = ['#2ca02c', '#d62728', '#9467bd', '#8c564b', '#e377c2', '#7f7f7f']

panels = [
    ('HEXRD', [hexrd_tio, hexrd_ndo, hexrd_oo, hexrd_titi, hexrd_ndti, hexrd_ndnd], hexrd_expt, hexrd_epsr,
     (-0.7, 6.9), [0, 1, 2, 3, 4, 5, 6], None),
    (r'$^{\mathit{46}}$Ti-$^{nat}$Nd', [ti46_tio, ti46_ndo, ti46_oo, ti46_titi, ti46_ndti, ti46_ndnd],
     ti46_expt, ti46_epsr, (-0.5, 6.5), [0, 1, 2, 3, 4, 5, 6], ['0', '1', '2', '3', '4', '5', '6']),
    (r'$^{\mathit{48}}$Ti-$^{nat}$Nd', [ti48_tio, ti48_ndo, ti48_oo, ti48_titi, ti48_ndti, ti48_ndnd],
     ti48_expt, ti48_epsr, (-14, 17), [-10, -5, 0, 5, 10, 15], None),
    (r'$^{nat}$Ti-$^{\mathit{144}}$Nd', [nd144_tio, nd144_ndo, nd144_oo, nd144_titi, nd144_ndti, nd144_ndnd],
     nd144_expt, nd144_epsr, (-8.5, 13), [-6, -3, 0, 3, 6, 9, 12], ['-6', '-3', '0', '3', '6', '9', '12']),
    (r'$^{nat}$Ti-$^{\mathit{145}}$Nd', [nd145_tio, nd145_ndo, nd145_oo, nd145_titi, nd145_ndti, nd145_ndnd],
     nd145_expt, nd145_epsr, (-5.2, 10.5), [-4, -2, 0, 2, 4, 6, 8, 10], None),
    (r'$^{null}$Ti-$^{nat}$Nd', [null_tio, null_ndo, null_oo, null_titi, null_ndti, null_ndnd],
     null_expt, null_epsr, (-0.5, 7.2), [0, 1, 2, 3, 4, 5, 6, 7], ['0', '1', '2', '3', '4', '5', '6', '7']),
]

for p in panels:
    for arr in p[1] + [p[2], p[3]]:
        if len(arr) != len(r):
            raise ValueError(f"{p[0]}: length {len(arr)}")

fig, axes = plt.subplots(3, 2, figsize=(7.08, 9.03), dpi=100)
fig.subplots_adjust(left=0.1003, right=0.9958, top=0.9978, bottom=0.0609, wspace=0.12, hspace=0.044)

lw = 1.6
for i, (ax, (label, parts, expt, epsr, ylim, yt, ytl)) in enumerate(zip(axes.flat, panels)):
    h_expt, = ax.plot(r, expt, color='#ff7f0e', lw=lw, label='Expt')
    h_epsr, = ax.plot(r, epsr, color='#1f77b4', lw=lw, ls='--', label='EPSR')
    h_parts = []
    for y, name, c in zip(parts, pair_names, pair_colors):
        h, = ax.plot(r, y, color=c, lw=lw, label=name)
        h_parts.append(h)

    ax.set_xlim(-0.3, 6.3)
    ax.set_ylim(*ylim)
    ax.set_xticks([0, 1, 2, 3, 4, 5, 6])
    if ytl is None:
        ax.set_yticks(yt)
    else:
        ax.set_yticks(yt, labels=ytl)
    ax.tick_params(direction='in', length=5, width=1, labelsize=10.5, colors='#222222')
    for s in ax.spines.values():
        s.set_linewidth(1.1)
        s.set_color('#333333')
    if i < 4:
        ax.tick_params(labelbottom=False)
    else:
        ax.set_xlabel(r'$r$ / Å', fontsize=12, labelpad=6)

    if label == 'HEXRD':
        ax.text(0.973, 0.52, label, transform=ax.transAxes, ha='right', va='center',
                fontsize=12.5, style='italic')
        blank = Line2D([], [], color='none')
        handles = h_parts + [h_expt, h_epsr, blank, blank, blank, blank]
        labels = pair_names + ['Expt', 'EPSR', '', '', '', '']
        ax.legend(handles, labels, loc='upper left', ncol=2, frameon=False, fontsize=10.5,
                  handlelength=2.5, columnspacing=5.2, labelspacing=0.58, borderaxespad=0.5)
    else:
        ax.text(0.975, 0.965, label, transform=ax.transAxes, ha='right', va='top',
                fontsize=12.5, style='italic')

axes[1, 0].set_ylabel(r'$T(r)$ or $W_{ij}\otimes t_{ij}$ / atoms Å$^{-2}$', fontsize=12.5, labelpad=4)

fig.savefig('out.png', dpi=100)
